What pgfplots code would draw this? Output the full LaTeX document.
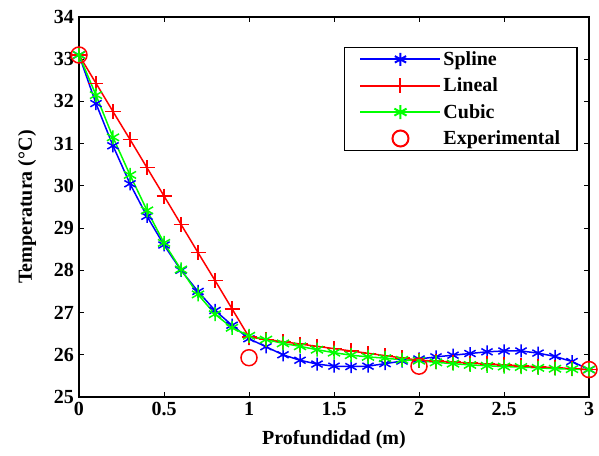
\documentclass[border=0pt]{standalone}
\usepackage{pgfplots}
\pgfplotsset{compat=1.18}
\usepackage{fontspec}
\setmainfont{Liberation Serif}
\pgfplotstableread{
x y
0 33.1
0.1 31.95
0.2 30.95
0.3 30.05
0.4 29.28
0.5 28.6
0.6 28.0
0.7 27.5
0.8 27.05
0.9 26.7
1.0 26.38
1.1 26.19
1.2 26.0
1.3 25.87
1.4 25.78
1.5 25.73
1.6 25.72
1.7 25.73
1.8 25.79
1.9 25.85
2.0 25.9
2.1 25.95
2.2 25.99
2.3 26.03
2.4 26.07
2.5 26.09
2.6 26.09
2.7 26.04
2.8 25.96
2.9 25.84
3.0 25.65
}\spline
\pgfplotstableread{
x y
0 33.1
0.1 32.43
0.2 31.76
0.3 31.10
0.4 30.43
0.5 29.76
0.6 29.09
0.7 28.42
0.8 27.76
0.9 27.09
1.0 26.42
1.1 26.365
1.2 26.31
1.3 26.255
1.4 26.2
1.5 26.145
1.6 26.09
1.7 26.035
1.8 25.98
1.9 25.925
2.0 25.87
2.1 25.848
2.2 25.826
2.3 25.804
2.4 25.782
2.5 25.76
2.6 25.738
2.7 25.716
2.8 25.694
2.9 25.672
3.0 25.65
}\lineal
\pgfplotstableread{
x y
0 33.1
0.1 32.15
0.2 31.15
0.3 30.26
0.4 29.42
0.5 28.65
0.6 28.02
0.7 27.43
0.8 26.96
0.9 26.64
1.0 26.45
1.1 26.36
1.2 26.27
1.3 26.2
1.4 26.12
1.5 26.05
1.6 25.99
1.7 25.95
1.8 25.92
1.9 25.88
2.0 25.86
2.1 25.82
2.2 25.79
2.3 25.76
2.4 25.74
2.5 25.72
2.6 25.71
2.7 25.69
2.8 25.67
2.9 25.66
3.0 25.65
}\cubic
\pgfplotstableread{
x y
0 33.1
1 25.93
2 25.73
3 25.65
}\expdata
\begin{document}
\begin{tikzpicture}
\begin{axis}[
  scale only axis, width=510pt, height=380pt,
  xmin=0, xmax=3, ymin=25, ymax=34,
  xtick={0,0.5,1,1.5,2,2.5,3},
  ytick={25,26,...,34},
  xticklabel={\pgfmathprintnumber[assume math mode=true]{\tick}},
  yticklabel={\pgfmathprintnumber[assume math mode=true]{\tick}},
  tick align=inside, major tick length=5pt,
  axis line style={line width=1.3pt},
  every tick/.style={black, line width=1pt},
  font=\fontsize{20}{24}\selectfont\bfseries,
  tick label style={font=\fontsize{20}{24}\selectfont\bfseries},
  xticklabel style={inner sep=5pt},
  yticklabel style={inner sep=5pt},
  xlabel={Profundidad (m)}, ylabel={Temperatura (°C)},
  every axis x label/.style={at={(axis description cs:0.5,0)}, yshift=-43pt, anchor=center},
  every axis y label/.style={at={(axis description cs:0,0.5)}, xshift=-52pt, rotate=90, anchor=center},
  legend style={at={(0.978,0.921)}, anchor=north east, draw=black, line width=1.3pt,
    font=\fontsize{20}{24}\selectfont\bfseries, row sep=7pt, inner xsep=15pt, inner ysep=2pt},
  legend cell align=left,
  legend image code/.code={\draw[mark repeat=2,mark phase=2,line width=2pt] plot coordinates {(0pt,0pt) (40pt,0pt) (80pt,0pt)};},
]
\addplot[blue, line width=1.5pt, mark=asterisk, mark size=6.5pt] table {\spline};
\addlegendentry{Spline}
\addplot[red, line width=1.5pt, mark=+, mark size=7.5pt] table {\lineal};
\addlegendentry{Lineal}
\addplot[green, line width=1.5pt, mark=asterisk, mark size=7pt] table {\cubic};
\addlegendentry{Cubic}
\addplot[red, only marks, line width=1.5pt, mark=o, mark size=8pt] table {\expdata};
\addlegendentry{Experimental}
\end{axis}
\pgfresetboundingbox
\path ([shift={(-79pt,-59pt)}]current axis.south west) rectangle ([shift={(10pt,17pt)}]current axis.north east);
\end{tikzpicture}
\end{document}
